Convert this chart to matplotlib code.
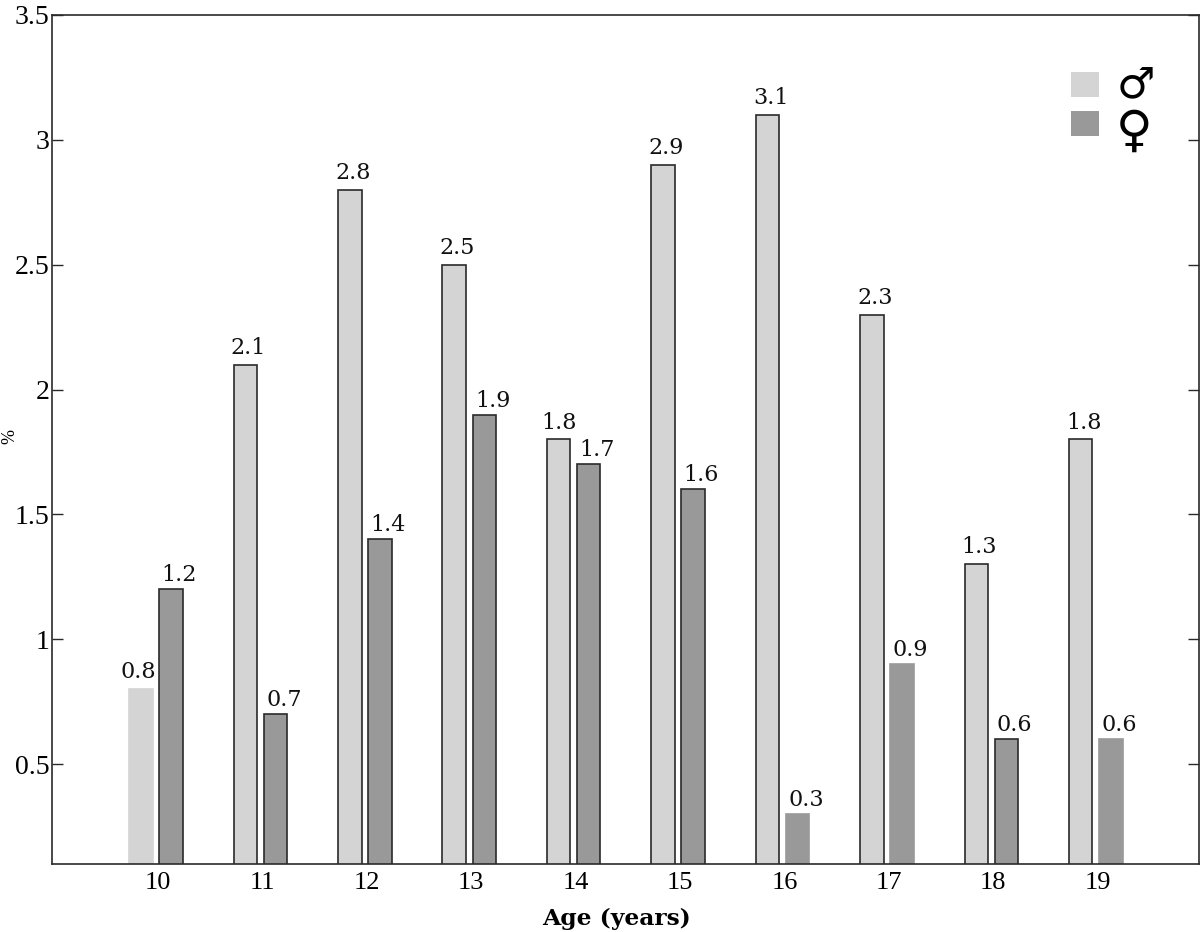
import matplotlib
matplotlib.use("Agg")
import matplotlib.pyplot as plt
from matplotlib.patches import Rectangle

ages = [10, 11, 12, 13, 14, 15, 16, 17, 18, 19]
male = [0.8, 2.1, 2.8, 2.5, 1.8, 2.9, 3.1, 2.3, 1.3, 1.8]
female = [1.2, 0.7, 1.4, 1.9, 1.7, 1.6, 0.3, 0.9, 0.6, 0.6]
yticks = [0.5, 1, 1.5, 2, 2.5, 3, 3.5]
ylabels = ["0.5", "1", "1.5", "2", "2.5", "3", "3.5"]

# some bars in the original have lost their outline
male_edge = [False, True, True, True, True, True, True, True, True, True]
female_edge = [True, True, True, True, True, True, False, False, True, False]

male_col = "#d4d4d4"
female_col = "#999999"
dark = "#2a2a2a"

plt.rcParams["font.family"] = ["Liberation Serif", "DejaVu Sans"]

fig = plt.figure(figsize=(12, 9.32), dpi=100)
ax = fig.add_axes([52 / 1200, (932 - 864) / 932, 1147 / 1200, 849 / 932])

w = 0.225
for i in range(len(ages)):
    xm = ages[i] - 0.163
    xf = ages[i] + 0.125
    ax.bar(xm, male[i], w, color=male_col, edgecolor=dark if male_edge[i] else male_col, linewidth=1.2)
    ax.bar(xf, female[i], w, color=female_col, edgecolor=dark if female_edge[i] else female_col, linewidth=1.2)
    # the 0.8 and 1.8 labels sit further left so they clear the next bar
    dx = 0.03
    if ages[i] == 10:
        dx = -0.03
    if ages[i] == 14:
        dx = 0.0
    ax.text(xm + dx, male[i] + 0.068, str(male[i]), ha="center", va="center",
            family="DejaVu Serif", fontsize=16, color="#111111")
    ax.text(xf + 0.08, female[i] + 0.056, str(female[i]), ha="center", va="center",
            family="DejaVu Serif", fontsize=16, color="#111111")

ax.set_xlim(8.985, 19.97)
ax.set_ylim(0.1, 3.5)
ax.set_xticks(ages)
ax.set_yticks(yticks)
ax.set_yticklabels(ylabels)
ax.tick_params(axis="x", length=0, labelsize=19, pad=6)
ax.tick_params(axis="y", direction="in", length=8, width=1, left=True, right=True, labelsize=20, pad=2, color=dark)
for s in ax.spines.values():
    s.set_color(dark)
    s.set_linewidth(1.2)

fig.text(616 / 1200, 1 - 919 / 932, "Age (years)", family="DejaVu Serif", fontsize=16.8, fontweight="bold",
         ha="center", va="center")
fig.text(10 / 1200, 1 - 437 / 932, "%", rotation=90, fontsize=13, ha="center", va="center")

# gender key
tr = fig.transFigure
fig.add_artist(Rectangle((1071 / 1200, 1 - 97 / 932), 28 / 1200, 25 / 932, transform=tr, color=male_col, lw=0))
fig.add_artist(Rectangle((1071 / 1200, 1 - 136 / 932), 28 / 1200, 25 / 932, transform=tr, color=female_col, lw=0))
fig.text(1136 / 1200, 1 - 86 / 932, "\u2642", family="DejaVu Sans", fontsize=31, ha="center", va="center", color="black")
fig.text(1134 / 1200, 1 - 132 / 932, "\u2640", family="DejaVu Sans", fontsize=36, ha="center", va="center", color="black")

fig.savefig("out.png", dpi=100)
